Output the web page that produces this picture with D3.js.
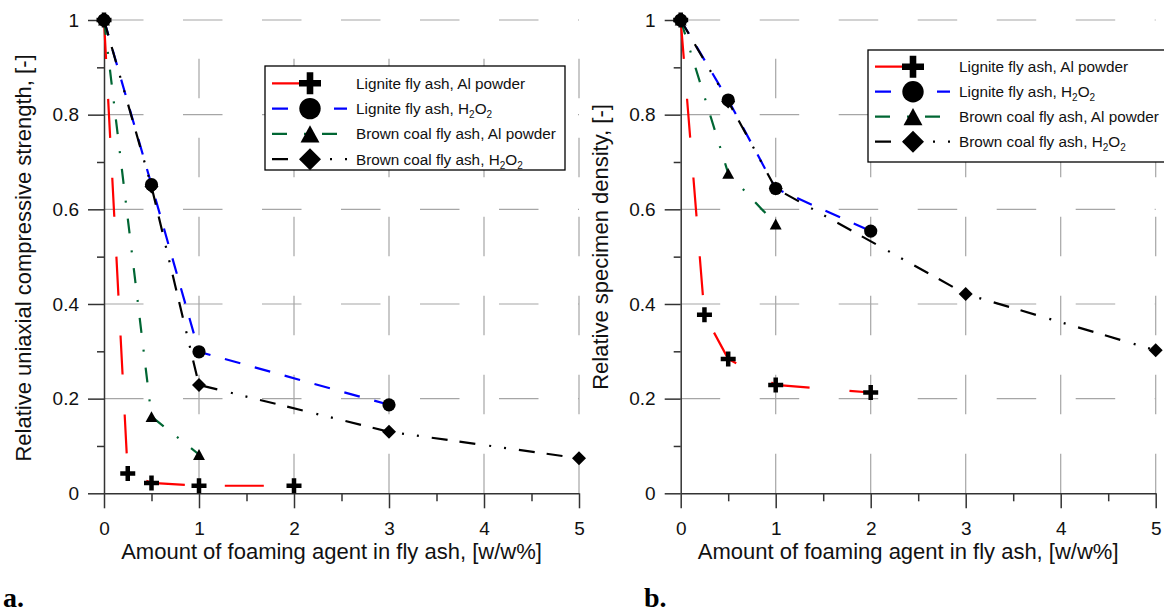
<!DOCTYPE html>
<html>
<head>
<meta charset="utf-8">
<script src="https://cdn.jsdelivr.net/npm/d3@7/dist/d3.min.js"></script>
<style>
  html, body { margin: 0; padding: 0; background: #fff; }
  svg { display: block; font-family: "Liberation Sans", Arial, sans-serif; }
</style>
</head>
<body>
<svg id="chart" width="1164" height="614"></svg>
<script>
// ---- data ----
const seriesNames = [
  "Lignite fly ash, Al powder",
  "Lignite fly ash, H2O2",
  "Brown coal fly ash, Al powder",
  "Brown coal fly ash, H2O2"
];
const xLigniteAl   = [0, 0.25, 0.5, 1, 2];
const xLigniteH2O2 = [0, 0.5, 1, 3];
const xBrownAl     = [0, 0.5, 1];
const xBrownH2O2   = [0, 0.5, 1, 3, 5];
const xLigniteH2O2Density = [0, 0.5, 1, 2];

// panel a: relative uniaxial compressive strength
const strengthLigniteAl   = [1, 0.042, 0.022, 0.016, 0.016];
const strengthLigniteH2O2 = [1, 0.652, 0.299, 0.187];
const strengthBrownAl     = [1, 0.162, 0.082];
const strengthBrownH2O2   = [1, 0.648, 0.229, 0.130, 0.074];

// panel b: relative specimen density
const densityLigniteAl   = [1, 0.377, 0.284, 0.229, 0.213];
const densityLigniteH2O2 = [1, 0.831, 0.644, 0.554];
const densityBrownAl     = [1, 0.676, 0.569];
const densityBrownH2O2   = [1, 0.828, 0.644, 0.421, 0.302];

const xMajorTicks = [0, 1, 2, 3, 4, 5];
const xMinorTicks = [0.5, 1.5, 2.5, 3.5, 4.5];
const yMajorTicks = [0, 0.2, 0.4, 0.6, 0.8, 1];
const yMinorTicks = [0.1, 0.3, 0.5, 0.7, 0.9];
const yTickLabels = ["0", "0.2", "0.4", "0.6", "0.8", "1"];
const xTitle = "Amount of foaming agent in fly ash, [w/w%]";
const yTitleA = "Relative uniaxial compressive strength, [-]";
const yTitleB = "Relative specimen density, [-]";

// ---- styles per series ----
const styles = [
  { color: "#ff0000", dash: "39,40",                    marker: "plus" },
  { color: "#0000ff", dash: "16,15",                    marker: "circle" },
  { color: "#006633", dash: "15,17,2,16",               marker: "triangle" },
  { color: "#000000", dash: "16,12,16,14,2,13,2,13",    marker: "diamond" }
];

// ---- marker shapes ----
function markerPath(type, s) {
  // s: overall marker size in px
  if (type === "plus") {
    const h = s / 2, t = s * 0.15;
    return `M${-h},${-t}H${-t}V${-h}H${t}V${-t}H${h}V${t}H${t}V${h}H${-t}V${t}H${-h}Z`;
  }
  if (type === "circle") {
    const r = s / 2;
    return `M${r},0A${r},${r} 0 1,1 ${-r},0A${r},${r} 0 1,1 ${r},0Z`;
  }
  if (type === "triangle") {
    const w = s * 0.88, h = s * 0.8;
    return `M0,${-h / 2}L${w / 2},${h / 2}L${-w / 2},${h / 2}Z`;
  }
  const h = s / 2;
  return `M0,${-h}L${h},0L0,${h}L${-h},0Z`;
}
const chartMarkerSize = { plus: 15, circle: 13.2, triangle: 13.5, diamond: 14 };
const legendMarkerSize = { plus: 22, circle: 21.4, triangle: 21.5, diamond: 22 };

const svg = d3.select("#chart");

function drawPanel(cfg) {
  const x = d3.scaleLinear().domain([0, 5]).range([cfg.left, cfg.left + 475]);
  const y = d3.scaleLinear().domain([0, 1]).range([493.3, 20]);
  const g = svg.append("g");
  const gridColor = "#a6a6a6";

  // dashed grid
  g.append("g").selectAll("line").data(yMajorTicks.slice(1)).join("line")
    .attr("x1", x(0)).attr("x2", x(5))
    .attr("y1", d => y(d)).attr("y2", d => y(d))
    .attr("stroke", gridColor).attr("stroke-width", 1.2)
    .attr("stroke-dasharray", "39.5,39.5");
  g.append("g").selectAll("line").data(xMajorTicks.slice(1)).join("line")
    .attr("x1", d => x(d)).attr("x2", d => x(d))
    .attr("y1", y(0)).attr("y2", y(1))
    .attr("stroke", gridColor).attr("stroke-width", 1.2)
    .attr("stroke-dasharray", "39.5,39.5");

  // axes
  const axisColor = "#333";
  const yAxis = g.append("g").attr("transform", `translate(${x(0)},0)`)
    .call(d3.axisLeft(y).tickValues(yMajorTicks).tickSize(16).tickSizeOuter(0)
      .tickFormat((d, i) => yTickLabels[i]).tickPadding(9));
  const yMinor = g.append("g").attr("transform", `translate(${x(0)},0)`)
    .call(d3.axisLeft(y).tickValues(yMinorTicks).tickSize(7).tickFormat(""));
  yMinor.select(".domain").remove();
  const xAxis = g.append("g").attr("transform", `translate(0,${y(0)})`)
    .call(d3.axisBottom(x).tickValues(xMajorTicks).tickSize(15).tickSizeOuter(0)
      .tickFormat(d3.format("d")).tickPadding(13));
  const xMinor = g.append("g").attr("transform", `translate(0,${y(0)})`)
    .call(d3.axisBottom(x).tickValues(xMinorTicks).tickSize(8).tickFormat(""));
  xMinor.select(".domain").remove();
  [yAxis, yMinor, xAxis, xMinor].forEach(a => {
    a.selectAll("path, line").attr("stroke", axisColor).attr("stroke-width", 1.5);
    a.selectAll("text").attr("font-size", 19).attr("fill", "#111")
      .attr("font-family", "Liberation Sans, Arial, sans-serif");
  });

  // axis titles
  g.append("text").attr("x", (x(0) + x(5)) / 2 - 10).attr("y", 559)
    .attr("text-anchor", "middle").attr("font-size", 22).attr("fill", "#111")
    .text(xTitle);
  g.append("text")
    .attr("transform", `translate(${x(0) - 73},${cfg.yTitleCenter}) rotate(-90)`)
    .attr("text-anchor", "middle").attr("font-size", 22).attr("fill", "#111")
    .text(cfg.yTitle);

  // series lines
  const line = d3.line().x(d => x(d[0])).y(d => y(d[1]));
  cfg.series.forEach((s, i) => {
    const pts = s.xs.map((v, j) => [v, s.ys[j]]);
    g.append("path").datum(pts).attr("d", line)
      .attr("fill", "none").attr("stroke", styles[i].color)
      .attr("stroke-width", 2.2).attr("stroke-dasharray", styles[i].dash);
  });
  // markers (circles on top)
  [0, 2, 3, 1].forEach(i => {
    const s = cfg.series[i];
    const type = styles[i].marker;
    g.append("g").selectAll("path").data(s.xs.map((v, j) => [v, s.ys[j]])).join("path")
      .attr("transform", d => `translate(${x(d[0])},${y(d[1])})`)
      .attr("d", markerPath(type, chartMarkerSize[type]))
      .attr("fill", "#000");
  });

  // legend
  const lg = g.append("g").attr("transform", `translate(${cfg.legend.x},${cfg.legend.y})`);
  lg.append("rect").attr("x", 0).attr("y", 0).attr("width", 300).attr("height", cfg.legend.h)
    .attr("fill", "#fff").attr("stroke", "#000").attr("stroke-width", 1.3);
  seriesNames.forEach((name, i) => {
    const ry = cfg.legend.row0 + i * cfg.legend.step;
    lg.append("line").attr("x1", 7).attr("x2", 82).attr("y1", ry).attr("y2", ry)
      .attr("stroke", styles[i].color).attr("stroke-width", 2.2)
      .attr("stroke-dasharray", styles[i].dash);
    lg.append("path").attr("transform", `translate(45,${ry})`)
      .attr("d", markerPath(styles[i].marker, legendMarkerSize[styles[i].marker]))
      .attr("fill", "#000");
    const t = lg.append("text").attr("x", 91).attr("y", ry + 5.5)
      .attr("font-size", 15.3).attr("fill", "#111");
    if (name.endsWith("H2O2")) {
      t.append("tspan").text(name.slice(0, -4) + "H");
      t.append("tspan").attr("dy", 4).attr("font-size", 10).text("2");
      t.append("tspan").attr("dy", -4).text("O");
      t.append("tspan").attr("dy", 4).attr("font-size", 10).text("2");
    } else {
      t.text(name);
    }
  });

  // panel letter
  svg.append("text").attr("x", cfg.letterX).attr("y", 607)
    .attr("font-family", "Liberation Serif, Times New Roman, serif")
    .attr("font-weight", "bold").attr("font-size", 28).attr("fill", "#000")
    .text(cfg.letter);
}

drawPanel({
  left: 104, yTitle: yTitleA, yTitleCenter: 258, letter: "a.", letterX: 3,
  legend: { x: 265, y: 66, h: 104, row0: 17.3, step: 25.3 },
  series: [
    { xs: xLigniteAl, ys: strengthLigniteAl },
    { xs: xLigniteH2O2, ys: strengthLigniteH2O2 },
    { xs: xBrownAl, ys: strengthBrownAl },
    { xs: xBrownH2O2, ys: strengthBrownH2O2 }
  ]
});
drawPanel({
  left: 680.7, yTitle: yTitleB, yTitleCenter: 247, letter: "b.", letterX: 644,
  legend: { x: 868, y: 50, h: 112, row0: 16.7, step: 25 },
  series: [
    { xs: xLigniteAl, ys: densityLigniteAl },
    { xs: xLigniteH2O2Density, ys: densityLigniteH2O2 },
    { xs: xBrownAl, ys: densityBrownAl },
    { xs: xBrownH2O2, ys: densityBrownH2O2 }
  ]
});
</script>
</body>
</html>
